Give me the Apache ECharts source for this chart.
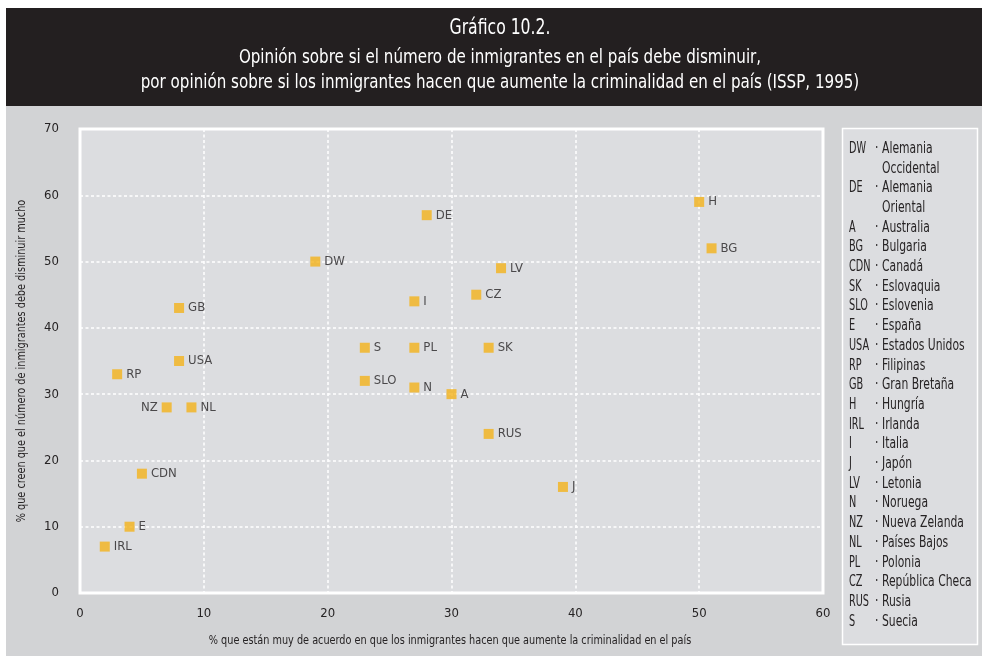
<!DOCTYPE html>
<html>
<head>
<meta charset="utf-8">
<script src="https://cdn.jsdelivr.net/npm/echarts@6/dist/echarts.min.js"></script>
<style>
  html, body { margin: 0; padding: 0; background: #ffffff; }
  #chart { width: 982px; height: 656px; }
</style>
</head>
<body>
<div id="chart"></div>
<script>
// Country codes with their two survey percentages
const codes   = ['DW', 'DE', 'A', 'BG', 'CDN', 'SK', 'SLO', 'E', 'USA', 'RP', 'GB', 'H', 'IRL', 'I', 'J', 'LV', 'N', 'NZ', 'NL', 'PL', 'CZ', 'RUS', 'S'];
// % strongly agreeing that immigrants increase crime
const crimeAgree = [19, 28, 30, 51, 5, 33, 23, 4, 8, 3, 8, 50, 2, 27, 39, 34, 27, 7, 9, 27, 32, 33, 23];
// % believing immigration should be reduced a lot
const reduceMuch = [50, 57, 30, 52, 18, 37, 32, 10, 35, 33, 43, 59, 7, 44, 16, 49, 31, 28, 28, 37, 45, 24, 37];

// Key lines (code, country name); continuation lines have an empty code
const keyCodes = ['DW', '', 'DE', '', 'A', 'BG', 'CDN', 'SK', 'SLO', 'E', 'USA', 'RP', 'GB', 'H', 'IRL', 'I', 'J', 'LV', 'N', 'NZ', 'NL', 'PL', 'CZ', 'RUS', 'S'];
const keyNames = ['Alemania', 'Occidental', 'Alemania', 'Oriental', 'Australia', 'Bulgaria', 'Canadá', 'Eslovaquia', 'Eslovenia', 'España', 'Estados Unidos', 'Filipinas', 'Gran Bretaña', 'Hungría', 'Irlanda', 'Italia', 'Japón', 'Letonia', 'Noruega', 'Nueva Zelanda', 'Países Bajos', 'Polonia', 'República Checa', 'Rusia', 'Suecia'];

const headingLines = [
  'Gráfico 10.2.',
  'Opinión sobre si el número de inmigrantes en el país debe disminuir,',
  'por opinión sobre si los inmigrantes hacen que aumente la criminalidad en el país (ISSP, 1995)'
];
const xName = '% que están muy de acuerdo en que los inmigrantes hacen que aumente la criminalidad en el país';
const yName = '% que creen que el número de inmigrantes debe disminuir mucho';

const xTicks = { min: 0, max: 60, interval: 10 };
const yTicks = { min: 0, max: 70, interval: 10 };

// Narrow typeface; text drawn as graphics is squeezed horizontally a little further
const FONT = '"DejaVu Sans Condensed", "Liberation Sans Narrow", sans-serif';
const INK = '#262324';

const points = codes.map((c, i) => ({
  value: [crimeAgree[i], reduceMuch[i]],
  name: c,
  label: { position: c === 'NZ' ? 'left' : 'right' }
}));

function squeezedText(txt, x, y, size, sx, opts) {
  return {
    type: 'text', x: x, y: y, scaleX: sx, scaleY: 1,
    style: Object.assign({ text: txt, fill: INK, font: size + 'px ' + FONT, verticalAlign: 'middle' }, opts || {})
  };
}

const keyElements = [];
keyCodes.forEach((c, i) => {
  const mid = 149 + i * 19.7;
  if (c) {
    keyElements.push(squeezedText(c, 849, mid, 15, 0.72));
    keyElements.push(squeezedText('·', 875, mid, 15, 0.8));
  }
  keyElements.push(squeezedText(keyNames[i], 882, mid, 15, 0.8));
});

const headingElements = [
  squeezedText(headingLines[0], 500, 28.5, 22, 0.79, { fill: '#ffffff', textAlign: 'center' }),
  squeezedText(headingLines[1], 500, 58, 20, 0.84, { fill: '#ffffff', textAlign: 'center' }),
  squeezedText(headingLines[2], 500, 83, 20, 0.84, { fill: '#ffffff', textAlign: 'center' })
];

const chart = echarts.init(document.getElementById('chart'), null, { renderer: 'canvas' });
chart.setOption({
  animation: false,
  backgroundColor: '#ffffff',
  graphic: [
    // grey panel behind the plot and key
    { type: 'rect', z: -10, shape: { x: 6, y: 106, width: 976, height: 550 }, style: { fill: '#d2d3d5' } },
    // dark heading band
    { type: 'rect', z: -10, shape: { x: 6, y: 8, width: 976, height: 98 }, style: { fill: '#231f20' } },
    // key box
    { type: 'rect', z: -5, shape: { x: 842.5, y: 128.5, width: 135, height: 516 }, style: { fill: '#dcdde0', stroke: '#ffffff', lineWidth: 1.5 } },
    { type: 'group', z: 10, children: keyElements },
    { type: 'group', z: 10, children: headingElements },
    // axis titles
    squeezedText(xName, 450, 641, 13, 0.83, { textAlign: 'center' }),
    Object.assign(squeezedText(yName, 22, 361, 13, 0.83, { textAlign: 'center' }), { rotation: Math.PI / 2 })
  ],
  grid: {
    left: 80, top: 129, right: 159, bottom: 63,
    show: true, backgroundColor: '#dcdde0', borderColor: '#ffffff', borderWidth: 3
  },
  xAxis: {
    type: 'value', min: xTicks.min, max: xTicks.max, interval: xTicks.interval,
    axisLine: { show: false }, axisTick: { show: false },
    axisLabel: { color: INK, fontFamily: FONT, fontSize: 13, margin: 14 },
    splitLine: { show: true, lineStyle: { color: '#ffffff', type: [3, 2.5], width: 1.5 } }
  },
  yAxis: {
    type: 'value', min: yTicks.min, max: yTicks.max, interval: yTicks.interval,
    axisLine: { show: false }, axisTick: { show: false },
    axisLabel: { color: INK, fontFamily: FONT, fontSize: 13, margin: 21 },
    splitLine: { show: true, lineStyle: { color: '#ffffff', type: [3, 2.5], width: 1.5 } }
  },
  series: [{
    type: 'scatter',
    symbol: 'rect',
    symbolSize: 10,
    itemStyle: { color: '#f4b31a' },
    label: {
      show: true, formatter: '{b}', distance: 4,
      color: INK, fontFamily: FONT, fontSize: 13
    },
    data: points
  }]
});
</script>
</body>
</html>
